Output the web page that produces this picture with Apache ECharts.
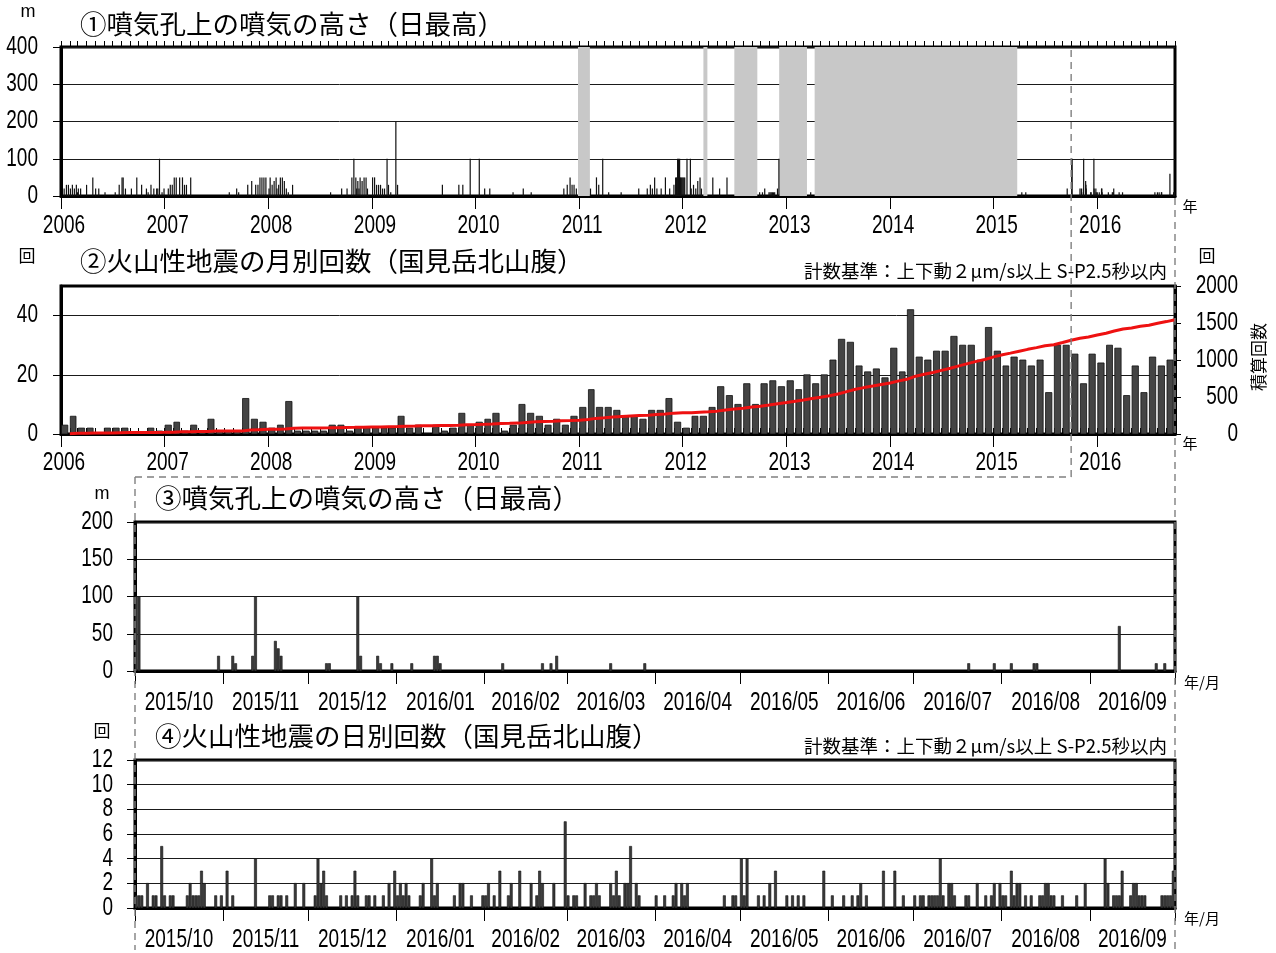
<!DOCTYPE html>
<html>
<head>
<meta charset="utf-8">
<script src="https://cdn.jsdelivr.net/npm/echarts@6/dist/echarts.min.js"></script>
<style>
html,body{margin:0;padding:0;background:#fff;}
#chart{width:1276px;height:953px;}
</style>
</head>
<body>
<div id="chart"></div>
<script>
// ---- data ----
// daily maximum plume height above the vent (m), 2006 - Sep 2015
const plumeHistory = [
  ['2006-01-10',20],['2006-01-18',30],['2006-01-25',30],['2006-02-01',20],['2006-02-08',30],['2006-02-15',20],
  ['2006-02-22',30],['2006-02-26',10],['2006-03-01',20],['2006-03-09',20],['2006-03-30',30],['2006-04-21',50],
  ['2006-05-01',20],['2006-05-12',20],['2006-06-03',10],['2006-07-09',10],['2006-07-23',30],['2006-08-02',50],
  ['2006-08-06',50],['2006-08-14',20],['2006-09-04',20],['2006-09-23',50],['2006-10-10',30],['2006-10-27',20],
  ['2006-11-02',10],['2006-11-12',30],['2006-11-22',20],['2006-12-02',20],['2006-12-06',20],['2006-12-12',100],
  ['2006-12-21',10],['2006-12-28',20],
  ['2007-01-12',20],['2007-01-19',30],['2007-01-26',30],['2007-02-02',50],['2007-02-09',50],['2007-02-21',50],
  ['2007-03-03',50],['2007-03-10',30],['2007-03-17',30],['2007-04-01',50],['2007-08-15',10],['2007-09-10',20],
  ['2007-09-17',10],['2007-10-19',30],['2007-11-02',40],['2007-11-16',30],['2007-11-24',30],['2007-12-01',50],
  ['2007-12-08',50],['2007-12-15',50],['2007-12-22',50],
  ['2008-01-02',20],['2008-01-06',50],['2008-01-13',30],['2008-01-20',40],['2008-01-27',50],['2008-01-30',20],
  ['2008-02-05',30],['2008-02-11',50],['2008-02-18',50],['2008-02-25',40],['2008-03-03',20],['2008-03-10',10],
  ['2008-03-25',30],['2008-08-06',10],['2008-09-14',20],['2008-10-03',20],['2008-10-20',50],['2008-10-27',100],
  ['2008-11-03',50],['2008-11-06',20],['2008-11-10',40],['2008-11-14',20],['2008-11-18',50],['2008-11-25',40],
  ['2008-12-02',50],['2008-12-09',50],['2008-12-14',20],
  ['2009-01-01',50],['2009-01-08',50],['2009-01-15',30],['2009-01-22',30],['2009-01-29',30],['2009-02-05',20],
  ['2009-02-12',20],['2009-02-21',100],['2009-02-26',30],['2009-03-06',10],['2009-03-24',200],['2009-03-30',30],
  ['2009-09-04',30],['2009-11-01',30],['2009-11-15',30],['2009-12-11',100],
  ['2010-01-12',100],['2010-01-31',20],['2010-02-18',20],['2010-05-11',10],['2010-06-16',20],['2010-07-14',10],
  ['2010-11-06',20],['2010-11-18',30],['2010-11-28',50],['2010-12-05',30],['2010-12-12',30],['2010-12-20',20],
  ['2011-02-08',20],['2011-03-01',50],['2011-03-09',30],['2011-03-23',100],['2011-04-13',10],['2011-05-27',10],
  ['2011-07-28',20],['2011-08-27',20],['2011-09-07',30],['2011-09-14',20],['2011-09-22',50],['2011-09-30',20],
  ['2011-10-15',20],['2011-10-30',50],['2011-11-14',20],['2011-11-29',30],['2011-12-05',50],['2011-12-08',50],
  ['2011-12-12',100],['2011-12-15',100],['2011-12-17',50],['2011-12-19',100],['2011-12-22',50],['2011-12-25',50],
  ['2011-12-28',50],['2011-12-31',50],
  ['2012-01-03',50],['2012-01-06',50],['2012-01-14',100],['2012-01-26',100],['2012-01-29',20],['2012-02-06',30],
  ['2012-02-14',20],['2012-02-21',40],['2012-02-29',50],['2012-03-05',20],['2012-04-14',50],['2012-05-08',20],
  ['2012-06-03',50],['2012-09-26',10],['2012-10-06',10],['2012-10-14',20],['2012-10-29',10],['2012-11-02',10],
  ['2012-11-06',10],['2012-11-10',10],['2012-11-14',10],['2012-11-18',10],['2012-11-28',20],['2012-12-03',100],
  ['2013-03-25',10],
  ['2015-04-08',10],['2015-04-22',10],['2015-09-15',20]
];

// daily maximum plume height (m), Oct 2015 - Sep 2016
const plumeRecent = [
  ['2015-10-01',100],['2015-10-02',100],['2015-10-30',20],['2015-11-04',20],['2015-11-05',10],['2015-11-11',20],
  ['2015-11-12',100],['2015-11-19',40],['2015-11-20',30],['2015-11-21',20],['2015-12-07',10],['2015-12-08',10],
  ['2015-12-18',100],['2015-12-19',20],['2015-12-25',20],['2015-12-26',10],['2015-12-30',10],['2016-01-06',10],
  ['2016-01-14',20],['2016-01-15',20],['2016-01-16',10],['2016-02-07',10],['2016-02-21',10],['2016-02-24',10],
  ['2016-02-26',20],['2016-03-16',10],['2016-03-28',10],['2016-07-20',10],['2016-07-29',10],['2016-08-04',10],
  ['2016-08-12',10],['2016-08-13',10],['2016-09-11',60],['2016-09-24',10],['2016-09-27',10]
];

// periods without observation (shaded)
const gapPeriods = [
  ['2010-12-28','2011-02-08'],
  ['2012-03-14','2012-03-28'],
  ['2012-07-01','2012-09-20'],
  ['2012-12-06','2013-03-14'],
  ['2013-04-10','2015-03-25']
];

// monthly number of volcanic earthquakes, Jan 2006 - Sep 2016
const quakeMonthStart = '2006-01';
const quakeMonthly = [
  3, 6, 2, 2, 0, 2, 2, 2, 0, 0, 2, 1,       // 2006
  3, 4, 1, 3, 1, 5, 1, 1, 1, 12, 5, 4,      // 2007
  2, 3, 11, 1, 1, 1, 1, 3, 3, 1, 2, 2,      // 2008
  2, 2, 2, 6, 2, 3, 0, 3, 1, 2, 7, 3,       // 2009
  4, 5, 7, 1, 3, 10, 7, 6, 3, 5, 3, 6,      // 2010
  9, 15, 9, 9, 8, 6, 6, 5, 8, 8, 12, 4,     // 2011
  2, 6, 6, 9, 16, 13, 10, 17, 10, 17, 18, 16,   // 2012
  18, 15, 20, 17, 20, 25, 32, 31, 23, 21, 22, 19, // 2013
  29, 21, 42, 26, 25, 28, 28, 33, 30, 30, 25, 36, // 2014
  28, 23, 26, 25, 23, 25, 14, 30, 30, 27, 17, 27, // 2015
  24, 30, 29, 13, 23, 14, 26, 23, 25             // 2016
];

// daily number of volcanic earthquakes, Oct 2015 - Sep 2016 (days not listed: 0)
const quakeDaily = [
  ['2015-10-01',1],['2015-10-02',1],['2015-10-03',1],['2015-10-05',2],['2015-10-07',1],['2015-10-08',1],
  ['2015-10-10',5],['2015-10-11',1],['2015-10-13',1],['2015-10-14',1],['2015-10-19',1],['2015-10-20',2],
  ['2015-10-21',1],['2015-10-22',1],['2015-10-23',1],['2015-10-24',3],['2015-10-25',2],['2015-10-29',1],
  ['2015-10-31',1],
  ['2015-11-02',3],['2015-11-04',1],['2015-11-12',4],['2015-11-17',1],['2015-11-18',1],['2015-11-20',1],
  ['2015-11-21',1],['2015-11-23',1],['2015-11-26',2],['2015-11-29',2],
  ['2015-12-03',1],['2015-12-04',4],['2015-12-05',2],['2015-12-06',3],['2015-12-07',1],['2015-12-12',1],
  ['2015-12-14',1],['2015-12-16',1],['2015-12-17',3],['2015-12-18',1],['2015-12-21',1],['2015-12-22',1],
  ['2015-12-24',1],['2015-12-27',1],['2015-12-29',2],['2015-12-31',3],
  ['2016-01-01',1],['2016-01-02',2],['2016-01-03',1],['2016-01-04',2],['2016-01-05',1],['2016-01-09',1],
  ['2016-01-10',2],['2016-01-13',4],['2016-01-14',1],['2016-01-15',2],['2016-01-21',1],['2016-01-23',2],
  ['2016-01-24',2],['2016-01-27',1],['2016-01-31',1],
  ['2016-02-01',1],['2016-02-02',2],['2016-02-04',1],['2016-02-06',3],['2016-02-09',1],['2016-02-10',2],
  ['2016-02-13',3],['2016-02-17',2],['2016-02-19',1],['2016-02-20',3],['2016-02-21',2],['2016-02-25',2],
  ['2016-02-29',7],
  ['2016-03-01',1],['2016-03-03',1],['2016-03-04',1],['2016-03-07',2],['2016-03-09',1],['2016-03-10',1],
  ['2016-03-11',2],['2016-03-12',1],['2016-03-16',2],['2016-03-17',1],['2016-03-18',3],['2016-03-19',1],
  ['2016-03-21',2],['2016-03-22',2],['2016-03-23',5],['2016-03-25',2],['2016-03-26',1],
  ['2016-04-01',1],['2016-04-04',1],['2016-04-07',1],['2016-04-08',2],['2016-04-10',2],['2016-04-11',1],
  ['2016-04-12',2],['2016-04-25',1],['2016-04-28',1],['2016-04-29',1],
  ['2016-05-01',4],['2016-05-02',1],['2016-05-03',4],['2016-05-07',1],['2016-05-09',1],['2016-05-11',2],
  ['2016-05-13',3],['2016-05-17',1],['2016-05-19',1],['2016-05-21',1],['2016-05-23',1],['2016-05-30',3],
  ['2016-06-02',1],['2016-06-06',1],['2016-06-09',1],['2016-06-11',1],['2016-06-12',2],['2016-06-14',1],
  ['2016-06-20',3],['2016-06-24',3],['2016-06-27',1],
  ['2016-07-01',1],['2016-07-03',1],['2016-07-04',1],['2016-07-06',1],['2016-07-07',1],['2016-07-08',1],
  ['2016-07-09',1],['2016-07-10',4],['2016-07-11',1],['2016-07-13',2],['2016-07-14',2],['2016-07-15',1],
  ['2016-07-19',1],['2016-07-20',1],['2016-07-23',2],['2016-07-26',1],['2016-07-28',1],['2016-07-29',2],
  ['2016-07-31',2],
  ['2016-08-01',1],['2016-08-02',1],['2016-08-04',3],['2016-08-05',1],['2016-08-06',2],['2016-08-07',2],
  ['2016-08-09',1],['2016-08-11',1],['2016-08-14',1],['2016-08-15',1],['2016-08-16',2],['2016-08-17',2],
  ['2016-08-18',1],['2016-08-19',1],['2016-08-22',1],['2016-08-27',1],['2016-08-30',2],
  ['2016-09-06',4],['2016-09-07',2],['2016-09-09',1],['2016-09-10',1],['2016-09-11',1],['2016-09-12',3],
  ['2016-09-15',1],['2016-09-16',2],['2016-09-17',2],['2016-09-18',1],['2016-09-19',1],['2016-09-20',1],
  ['2016-09-26',1],['2016-09-27',1],['2016-09-28',1],['2016-09-29',1],['2016-09-30',3]
];

// axis ranges and tick labels
const longRange = ['2006-01-01', '2016-10-01'];
const shortRange = ['2015-10-01', '2016-10-01'];
const yearLabels = [2006, 2007, 2008, 2009, 2010, 2011, 2012, 2013, 2014, 2015, 2016];
const plumeTicksLong = [0, 100, 200, 300, 400];
const quakeTicksMonthly = [0, 20, 40];
const cumulativeTicks = [0, 500, 1000, 1500, 2000];
const plumeTicksShort = [0, 50, 100, 150, 200];
const quakeTicksDaily = [0, 2, 4, 6, 8, 10, 12];

const titles = {
  p1: '①噴気孔上の噴気の高さ（日最高）',
  p2: '②火山性地震の月別回数（国見岳北山腹）',
  p3: '③噴気孔上の噴気の高さ（日最高）',
  p4: '④火山性地震の日別回数（国見岳北山腹）',
  note: '計数基準：上下動２μm/s以上 S-P2.5秒以内'
};

// ---- helpers ----
const DAY = 86400000;
function ts(s) {
  const p = s.split('-').map(Number);
  return Date.UTC(p[0], p[1] - 1, p[2] || 1);
}
const NUM = '"Liberation Sans",Arial,sans-serif';
const JP = '"Noto Sans CJK JP","Noto Sans CJK SC",sans-serif';
const NUM_SIZE = 25;      // tick label size
const NUM_SQUEEZE = 0.76; // horizontal squeeze for the narrow numeral look

const T0 = ts(longRange[0]), T1 = ts(longRange[1]);
const D0 = ts(shortRange[0]), D1 = ts(shortRange[1]);

const yearTicks = yearLabels.map(y => Date.UTC(y, 0, 1));
function monthStarts(a, b) {
  const out = [];
  for (let d = new Date(a); d.getTime() <= b; d = new Date(Date.UTC(d.getUTCFullYear(), d.getUTCMonth() + 1, 1))) {
    out.push(d.getTime());
  }
  return out;
}
const monthTicksLong = monthStarts(T0, T1);
const monthTicksShort = monthStarts(D0, D1);
const monthMidsShort = monthTicksShort.slice(0, -1).map((t, i) => (t + monthTicksShort[i + 1]) / 2);
const monthLabel = v => { const d = new Date(v); return d.getUTCFullYear() + '/' + String(d.getUTCMonth() + 1).padStart(2, '0'); };

// monthly bars: [start, count, end] ; cumulative line at month ends
const ms = quakeMonthStart.split('-').map(Number);
const monthlyBars = quakeMonthly.map((v, i) => [Date.UTC(ms[0], ms[1] - 1 + i, 1), v, Date.UTC(ms[0], ms[1] + i, 1)]);
let running = 0;
const cumulative = monthlyBars.map(b => { running += b[1]; return [b[2], running]; });

const plumeLong = plumeHistory.concat(plumeRecent).map(d => [ts(d[0]), d[1]]);
const plumeShort = plumeRecent.map(d => [ts(d[0]), d[1]]);
const quakeShort = quakeDaily.map(d => [ts(d[0]), d[1]]);

// ---- axis builders ----
function gridBox(left, top, width, height) {
  return { left, top, width, height, show: true, borderColor: '#000', borderWidth: 3, backgroundColor: 'rgba(0,0,0,0)' };
}
function xAxisDef(gi, min, max, ticks, len, showLine) {
  return {
    type: 'value', gridIndex: gi, min, max,
    axisLine: { show: showLine, lineStyle: { color: '#000', width: 3 } },
    axisTick: { show: true, customValues: ticks, length: len, lineStyle: { color: '#000', width: 1 } },
    axisLabel: { show: false },
    splitLine: { show: false }
  };
}
function yAxisDef(gi, max, ticks, position, grid) {
  return {
    type: 'value', gridIndex: gi, min: 0, max, position,
    axisLine: { show: true, lineStyle: { color: '#000', width: 3 } },
    axisTick: { show: true, customValues: ticks, length: position === 'left' ? 8 : 6, lineStyle: { color: '#000', width: 1 } },
    axisLabel: { show: false },
    splitLine: { show: grid, lineStyle: { color: '#1a1a1a', width: 1 } }
  };
}

// ---- renderers ----
function spikeRenderer(params, api) {
  const t = api.value(0), v = api.value(1);
  const p0 = api.coord([t, 0]);
  const p1 = api.coord([t, v]);
  return { type: 'rect', shape: { x: p0[0], y: p1[1], width: 1.2, height: p0[1] - p1[1] }, style: { fill: '#111' } };
}
function monthBarRenderer(params, api) {
  const t0 = api.value(0), v = api.value(1), t1 = api.value(2);
  const a = api.coord([t0, 0]);
  const b = api.coord([t1, v]);
  const w = (b[0] - a[0]) * 0.72;
  return { type: 'rect', shape: { x: a[0] + 0.5, y: b[1], width: w, height: a[1] - b[1] },
           style: { fill: '#444', stroke: '#111', lineWidth: 0.8 } };
}
function dayBarRenderer(params, api) {
  const t = api.value(0), v = api.value(1);
  const a = api.coord([t, 0]);
  const b = api.coord([t + DAY * 0.8, v]);
  return { type: 'rect', shape: { x: a[0], y: b[1], width: Math.max(b[0] - a[0], 1.5), height: a[1] - b[1] },
           style: { fill: '#3a3a3a', stroke: '#111', lineWidth: 0.6 } };
}

const option = {
  animation: false,
  backgroundColor: '#fff',
  grid: [
    gridBox(61, 47, 1114, 149),
    gridBox(61, 286, 1114, 148),
    gridBox(135, 522, 1040, 149),
    gridBox(135, 760, 1040, 148)
  ],
  xAxis: [
    xAxisDef(0, T0, T1, yearTicks, 13, true),        // 0: years, panel 1
    xAxisDef(0, T0, T1, monthTicksLong, 6, false),   // 1: months, panel 1
    xAxisDef(1, T0, T1, yearTicks, 13, true),        // 2: years, panel 2
    xAxisDef(1, T0, T1, monthTicksLong, 6, false),   // 3: months, panel 2
    xAxisDef(2, D0, D1, monthTicksShort, 13, true),  // 4: months, panel 3
    xAxisDef(3, D0, D1, monthTicksShort, 13, true)   // 5: months, panel 4
  ],
  yAxis: [
    yAxisDef(0, 400, plumeTicksLong, 'left', true),
    yAxisDef(1, 50, quakeTicksMonthly, 'left', true),
    yAxisDef(1, 2000, cumulativeTicks, 'right', false),
    yAxisDef(2, 200, plumeTicksShort, 'left', true),
    yAxisDef(3, 12, quakeTicksDaily, 'left', true)
  ],
  series: [
    {
      name: 'gaps', type: 'line', xAxisIndex: 0, yAxisIndex: 0, data: [], z: -1,
      markArea: {
        silent: true,
        itemStyle: { color: '#c8c8c8', opacity: 1 },
        data: gapPeriods.map(g => [{ xAxis: ts(g[0]) }, { xAxis: ts(g[1]) }])
      }
    },
    {
      name: 'plumeLong', type: 'custom', xAxisIndex: 0, yAxisIndex: 0, clip: true, z: 3,
      encode: { x: 0, y: 1 }, data: plumeLong, renderItem: spikeRenderer
    },
    {
      name: 'quakeMonthly', type: 'custom', xAxisIndex: 2, yAxisIndex: 1, clip: true, z: 2,
      encode: { x: 0, y: 1 }, data: monthlyBars, renderItem: monthBarRenderer
    },
    {
      name: 'cumulative', type: 'line', xAxisIndex: 2, yAxisIndex: 2, z: 4,
      data: cumulative, showSymbol: false, symbol: 'none',
      lineStyle: { color: '#ee1111', width: 3 }
    },
    {
      name: 'plumeShort', type: 'custom', xAxisIndex: 4, yAxisIndex: 3, clip: true, z: 3,
      encode: { x: 0, y: 1 }, data: plumeShort, renderItem: dayBarRenderer
    },
    {
      name: 'quakeDaily', type: 'custom', xAxisIndex: 5, yAxisIndex: 4, clip: true, z: 3,
      encode: { x: 0, y: 1 }, data: quakeShort, renderItem: dayBarRenderer
    }
  ]
};

const chart = echarts.init(document.getElementById('chart'), null, { renderer: 'canvas' });
chart.setOption(option);

// ---- text: tick labels placed from the axes, titles, units; dashed guides ----
function txt(id, text, x, y, size, family, align, extra) {
  return Object.assign({
    id, type: 'text', x, y, z: 20, silent: true,
    style: { text, fill: '#000', font: size + 'px ' + family, textAlign: align || 'left', textVerticalAlign: 'middle' }
  }, extra || {});
}
function numTxt(id, text, x, y, align) {
  return txt(id, text, x, y, NUM_SIZE, NUM, align, { scaleX: NUM_SQUEEZE });
}
function dashed(id, x1, y1, x2, y2) {
  return { id, type: 'line', z: 15, silent: true,
           shape: { x1, y1, x2, y2 },
           style: { stroke: '#808080', lineWidth: 1.4, lineDash: [7, 5] } };
}
const px = (axis, v) => chart.convertToPixel({ xAxisIndex: axis }, v);
const py = (axis, v) => chart.convertToPixel({ yAxisIndex: axis }, v);

const YEAR_SHIFT = 3; // year labels sit just right of their tick
const labels = [];
yearTicks.forEach((t, i) => {
  labels.push(numTxt('x1_' + i, String(yearLabels[i]), px(0, t) + YEAR_SHIFT, 226, 'center'));
  labels.push(numTxt('x2_' + i, String(yearLabels[i]), px(2, t) + YEAR_SHIFT, 463, 'center'));
});
monthMidsShort.forEach((t, i) => {
  labels.push(numTxt('x3_' + i, monthLabel(t), px(4, t), 703, 'center'));
  labels.push(numTxt('x4_' + i, monthLabel(t), px(5, t), 940, 'center'));
});
plumeTicksLong.forEach(v => labels.push(numTxt('y1_' + v, String(v), 38, py(0, v), 'right')));
quakeTicksMonthly.forEach(v => labels.push(numTxt('y2_' + v, String(v), 38, py(1, v), 'right')));
cumulativeTicks.forEach(v => labels.push(numTxt('y2r_' + v, String(v), 1238, py(2, v), 'right')));
plumeTicksShort.forEach(v => labels.push(numTxt('y3_' + v, String(v), 113, py(3, v), 'right')));
quakeTicksDaily.forEach(v => labels.push(numTxt('y4_' + v, String(v), 113, py(4, v), 'right')));

const xOct = px(0, D0);
const yTop1 = py(0, 400), yBase1 = py(0, 0);
const xEnd = px(0, T1);
const xLeft3 = px(4, D0);
const guideY = 477;

chart.setOption({
  graphic: labels.concat([
    txt('u1', 'm', 28, 12, 18, NUM, 'center'),
    txt('t1', titles.p1, 80, 24, 26.5, JP),
    txt('yr1', '年', 1190, 206, 15, JP, 'center'),

    txt('u2', '回', 27, 256, 17, JP, 'center'),
    txt('t2', titles.p2, 80, 261, 26.5, JP),
    txt('u2r', '回', 1207, 256, 17, JP, 'center'),
    txt('n2', titles.note, 1167, 271, 18.5, JP, 'right'),
    txt('cum', '積算回数', 1259, 357, 17, JP, 'center', { rotation: Math.PI / 2 }),
    txt('yr2', '年', 1190, 443, 15, JP, 'center'),

    txt('u3', 'm', 102, 494, 18, NUM, 'center'),
    txt('t3', titles.p3, 155, 498, 26.5, JP),
    txt('ym3', '年/月', 1202, 682, 15, JP, 'center'),

    txt('u4', '回', 102, 731, 17, JP, 'center'),
    txt('t4', titles.p4, 155, 736, 26.5, JP),
    txt('n4', titles.note, 1167, 746, 18.5, JP, 'right'),
    txt('ym4', '年/月', 1202, 918, 15, JP, 'center'),

    dashed('g1', xOct, yTop1 + 3, xOct, guideY),
    dashed('g2', xLeft3, guideY, xOct, guideY),
    dashed('g3', xLeft3, guideY, xLeft3, 950),
    dashed('g4', xEnd, yBase1 + 2, xEnd, 950)
  ])
});
</script>
</body>
</html>
